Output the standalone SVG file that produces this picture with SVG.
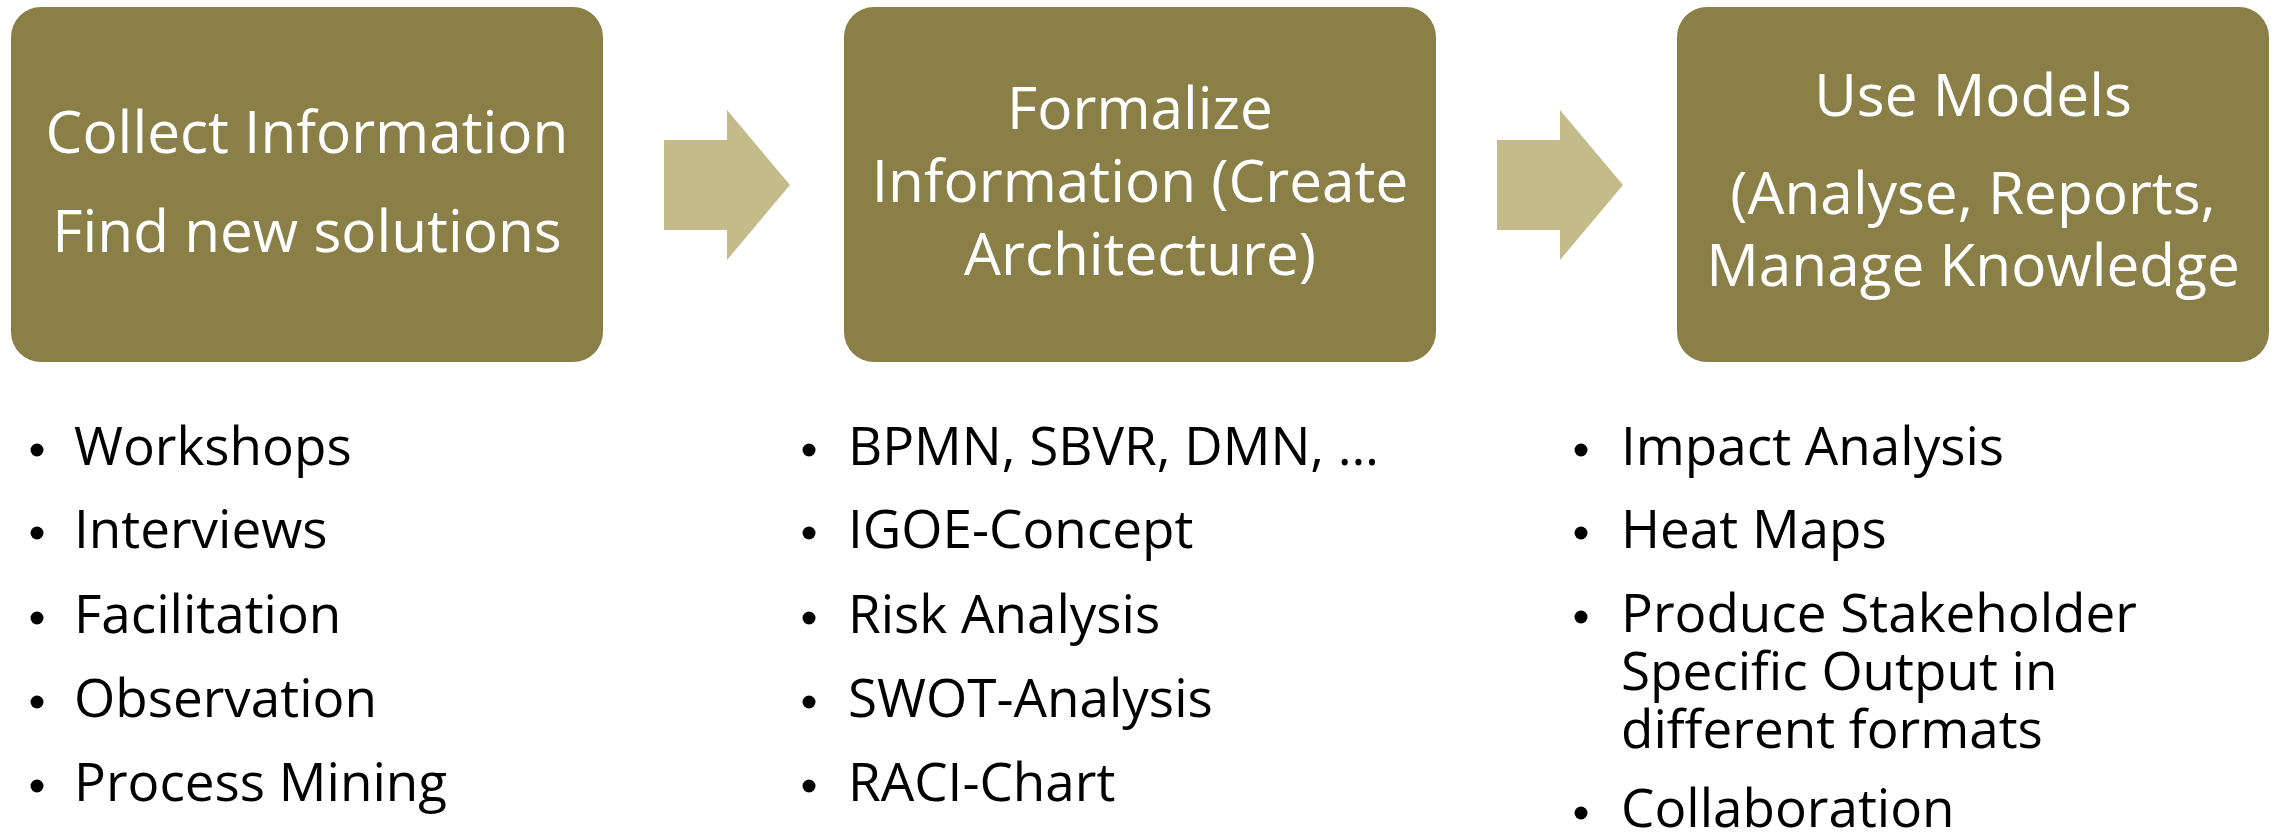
<svg xmlns="http://www.w3.org/2000/svg" width="2280" height="835" viewBox="0 0 2280 835">
  <style>
    .box { fill: #8A7F47; }
    .arrow { fill: #C3BB89; }
    .title { font-family: "Open Sans", "Noto Sans", "Liberation Sans", sans-serif; font-size: 58.5px; fill: #FFFFFF; text-anchor: middle; }
    .item { font-family: "Open Sans", "Noto Sans", "Liberation Sans", sans-serif; font-size: 53px; fill: #000000; }
    .dot { fill: #000000; }
  </style>
  <rect width="2280" height="835" fill="#FFFFFF"/>
  <g id="connectors">
    <polygon class="arrow" points="664,140 727,140 727,110 790,185 727,260 727,230 664,230"/>
    <polygon class="arrow" points="1497,140 1560,140 1560,110 1623,185 1560,260 1560,230 1497,230"/>
  </g>
  <g id="node-collect">
    <rect class="box" x="11" y="7" width="592" height="355" rx="30" ry="30"/>
    <text class="title" x="307" y="153">Collect Information</text>
    <text class="title" x="307" y="252">Find new solutions</text>
  </g>
  <g id="node-formalize">
    <rect class="box" x="844" y="7" width="592" height="355" rx="30" ry="30"/>
    <text class="title" x="1140" y="129">Formalize<tspan x="1140" y="202">Information (Create</tspan><tspan x="1140" y="275">Architecture)</tspan></text>
  </g>
  <g id="node-use">
    <rect class="box" x="1677" y="7" width="592" height="355" rx="30" ry="30"/>
    <text class="title" x="1973" y="116">Use Models</text>
    <text class="title" x="1973" y="214">(Analyse, Reports,<tspan x="1973" y="286">Manage Knowledge</tspan></text>
  </g>
  <g id="list-collect">
    <circle class="dot" cx="37" cy="450" r="6.5"/>
    <text class="item" x="74" y="465">Workshops</text>
    <circle class="dot" cx="37" cy="533" r="6.5"/>
    <text class="item" x="74" y="548">Interviews</text>
    <circle class="dot" cx="37" cy="618" r="6.5"/>
    <text class="item" x="74" y="633">Facilitation</text>
    <circle class="dot" cx="37" cy="702" r="6.5"/>
    <text class="item" x="74" y="717">Observation</text>
    <circle class="dot" cx="37" cy="786" r="6.5"/>
    <text class="item" x="74" y="801">Process Mining</text>
  </g>
  <g id="list-formalize">
    <circle class="dot" cx="809" cy="450" r="6.5"/>
    <text class="item" x="848" y="465">BPMN, SBVR, DMN, …</text>
    <circle class="dot" cx="809" cy="533" r="6.5"/>
    <text class="item" x="848" y="548">IGOE-Concept</text>
    <circle class="dot" cx="809" cy="618" r="6.5"/>
    <text class="item" x="848" y="633">Risk Analysis</text>
    <circle class="dot" cx="809" cy="702" r="6.5"/>
    <text class="item" x="848" y="717">SWOT-Analysis</text>
    <circle class="dot" cx="809" cy="786" r="6.5"/>
    <text class="item" x="848" y="801">RACI-Chart</text>
  </g>
  <g id="list-use">
    <circle class="dot" cx="1581" cy="450" r="6.5"/>
    <text class="item" x="1621" y="465">Impact Analysis</text>
    <circle class="dot" cx="1581" cy="533" r="6.5"/>
    <text class="item" x="1621" y="548">Heat Maps</text>
    <circle class="dot" cx="1581" cy="617" r="6.5"/>
    <text class="item" x="1621" y="632">Produce Stakeholder<tspan x="1621" y="690">Specific Output in</tspan><tspan x="1621" y="748">different formats</tspan></text>
    <circle class="dot" cx="1581" cy="813" r="6.5"/>
    <text class="item" x="1621" y="827">Collaboration</text>
  </g>
</svg>
